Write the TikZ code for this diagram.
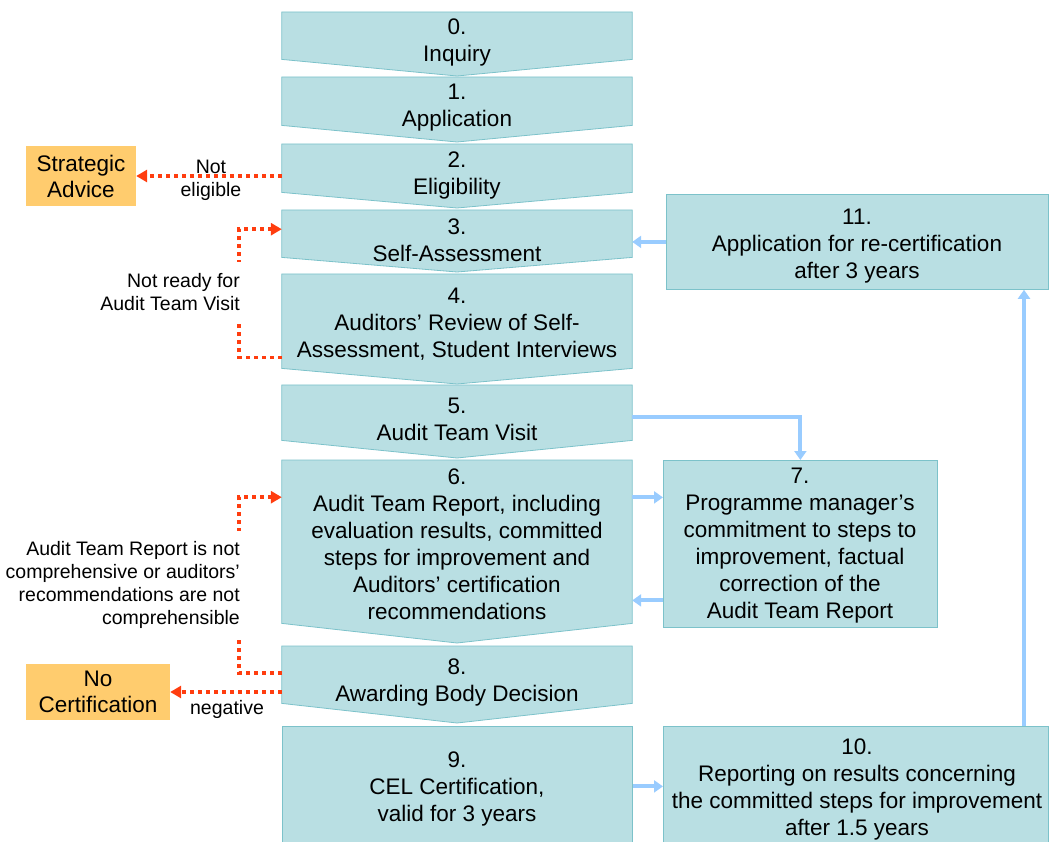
\documentclass[tikz,border=0pt]{standalone}
\usepackage{fontspec}
\setmainfont{Liberation Sans}
\usetikzlibrary{arrows.meta,calc}
\definecolor{stepfill}{HTML}{B9DFE3}
\definecolor{stepline}{HTML}{7CC2CA}
\definecolor{outfill}{HTML}{FFCC6E}
\definecolor{rejectred}{HTML}{FF3D0F}
\definecolor{flowblue}{HTML}{99CCFF}

% one step of the main sequence: #1 name, #2 top, #3 bottom of the sides, #4 tip
\newcommand{\stepchevron}[4]{%
  \node[body, minimum height={#3-#2}, anchor=north] (#1) at (457,#2) {};
  \draw[chev] (#1.north west) -- (#1.north east) -- (#1.south east)
    -- (457,#4) -- (#1.south west) -- cycle;
}

\begin{document}
\begin{tikzpicture}[x=1pt,y=-1pt,
  body/.style={draw=none, inner sep=0pt, minimum width=350pt},
  chev/.style={fill=stepfill, draw=stepline, line width=0.8pt, line join=miter},
  stepbox/.style={fill=stepfill, draw=stepline, line width=0.8pt, inner sep=0pt},
  steptext/.style={align=center, font=\fontsize{22.5}{27}\selectfont, inner sep=0pt},
  outbox/.style={fill=outfill, draw=none, inner sep=0pt, align=center,
    font=\fontsize{22.5}{26}\selectfont},
  note/.style={font=\fontsize{19.5}{23}\selectfont, inner sep=0pt},
  reject/.style={draw=rejectred, line width=3.5pt, dash pattern=on 4pt off 4pt,
    -{Triangle[length=11pt,width=12pt]}},
  flow/.style={draw=flowblue, line width=4pt, -{Triangle[length=9pt,width=12pt]}},
]
\useasboundingbox (0,0) rectangle (1053,842);

% main sequence of steps
\stepchevron{c0}{12}{59}{76}
\stepchevron{c1}{77}{125}{142}
\stepchevron{c2}{144}{192}{208}
\stepchevron{c3}{210}{257}{272}
\stepchevron{c4}{274}{368}{384}
\stepchevron{c5}{385}{440}{458}
\stepchevron{c6}{460}{623}{643}
\stepchevron{c8}{646}{703}{723}

% rectangular steps
\node[stepbox, minimum width=350pt, minimum height=120pt, anchor=north west] (b9) at (282,726) {};
\node[stepbox, minimum width=385pt, minimum height=120pt, anchor=north west] (b10) at (663,726) {};
\node[stepbox, minimum width=274pt, minimum height=167pt, anchor=north west] (b7) at (663,460) {};
\node[stepbox, minimum width=382pt, minimum height=95pt, anchor=north west] (b11) at (666,194) {};

% outcomes
\node[outbox, minimum width=110pt, minimum height=60pt] (sa) at (81,176) {Strategic\\Advice};
\node[outbox, minimum width=144pt, minimum height=56pt] (nc) at (98,692) {No\\Certification};

% rejection paths
\coordinate (bendx) at (239,0);
\coordinate (r3) at ($(c3.west)+(0,-4.5)$);
\coordinate (r4) at ($(c4.south west)+(0,-11)$);
\coordinate (r6) at ($(c6.west)+(0,-44.5)$);
\coordinate (r8) at ($(c8.west)+(0,-1.5)$);
\draw[reject] (sa.east -| c2.west) -- (sa.east);
\draw[reject] (r4) -- (r4 -| bendx) -- (r3 -| bendx) -- (r3);
\draw[reject] (r8) -- (r8 -| bendx) -- (r6 -| bendx) -- (r6);
\draw[reject] (nc.east -| c8.west) -- (nc.east);

% forward and feedback flows
\coordinate (h5) at ($(c5.east)+(0,4.5)$);
\coordinate (h67) at ($(b7.west)+(0,-46.5)$);
\coordinate (h76) at ($(b7.west)+(0,56.5)$);
\coordinate (upx) at (1024,0);
\draw[flow] (b11.west) -- (b11.west -| c3.east);
\draw[flow] (h5) -| (b7.north);
\draw[flow] (h67 -| c6.east) -- (h67);
\draw[flow] (h76) -- (h76 -| c6.east);
\draw[flow] (b9.east) -- (b10.west);
\draw[flow] (b10.north -| upx) -- (b11.south -| upx);

% step texts
\node[steptext] (t0) at (457,42) {0.\\Inquiry};
\node[steptext] (t1) at (457,108) {1.\\Application};
\node[steptext] (t2) at (457,175) {2.\\Eligibility};
\node[steptext] (t3) at (457,240) {3.\\Self-Assessment};
\node[steptext] (t4) at (457,324) {4.\\Auditors’ Review of Self-\\Assessment, Student Interviews};
\node[steptext] (t5) at (457,419) {5.\\Audit Team Visit};
\node[steptext] (t6) at (457,544) {6.\\Audit Team Report, including\\evaluation results, committed\\steps for improvement and\\Auditors’ certification\\recommendations};
\node[steptext] (t7) at (800,546) {7.\\Programme manager’s\\commitment to steps to\\improvement, factual\\correction of the\\Audit Team Report};
\node[steptext] (t8) at (457,682) {8.\\Awarding Body Decision};
\node[steptext] (t9) at (457,789) {9.\\CEL Certification,\\valid for 3 years};
\node[steptext] (t10) at (857,789) {10.\\Reporting on results concerning\\the committed steps for improvement\\after 1.5 years};
\node[steptext] (t11) at (857,246) {11.\\Application for re-certification\\after 3 years};

% path labels
\node[note, align=center] (l2) at (211,180) {Not\\eligible};
\node[note, align=right, fill=white, inner xsep=4pt, inner ysep=11pt, anchor=east] (l4) at (244,292) {Not ready for\\Audit Team Visit};
\node[note, align=right, fill=white, inner xsep=4pt, inner ysep=10pt, anchor=east] (l6) at (244,585) {Audit Team Report is not\\comprehensive or auditors’\\recommendations are not\\comprehensible};
\node[note] (l8) at (227,709) {negative};
\end{tikzpicture}
\end{document}
